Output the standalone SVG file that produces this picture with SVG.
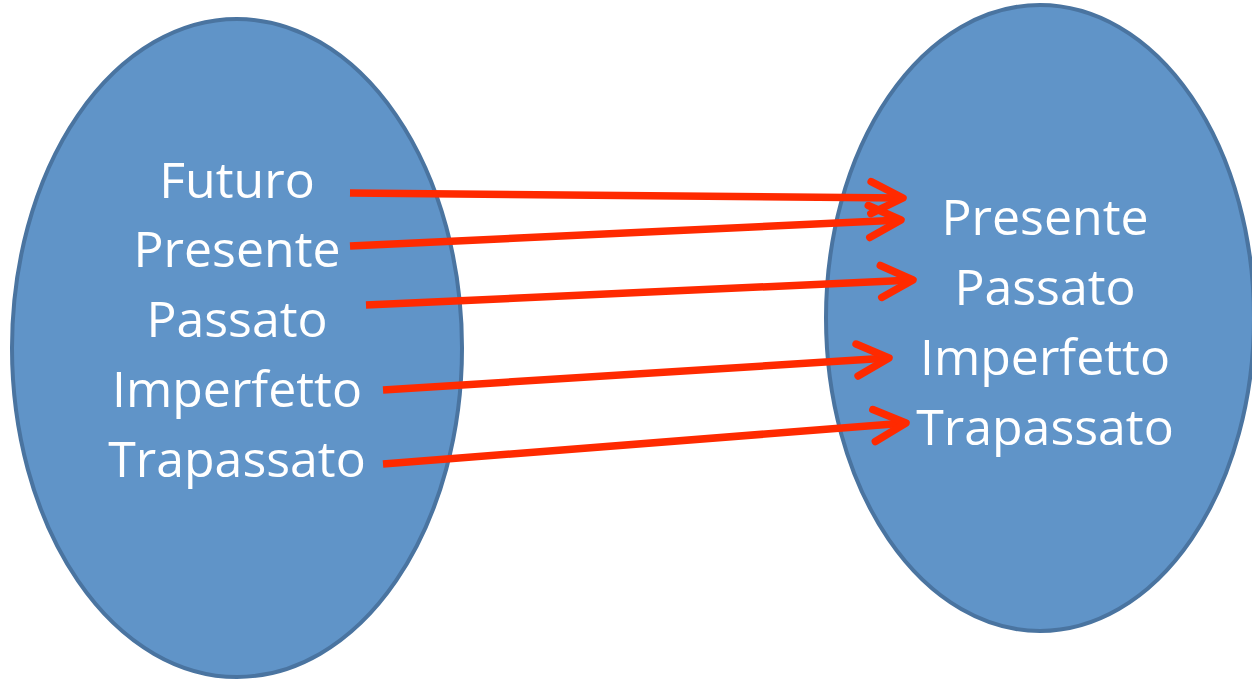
<svg xmlns="http://www.w3.org/2000/svg" width="1252" height="679" viewBox="0 0 1252 679">
<style>
.set{fill:#6094c8;stroke:#4a74a0;stroke-width:4}
.lbl{fill:#ffffff;font-family:"Open Sans","Liberation Sans",sans-serif;font-size:50px;text-anchor:middle}
.arr{stroke:#ff2a00;stroke-width:7.5;fill:none;marker-end:url(#ah)}
</style>
<defs>
<marker id="ah" markerUnits="userSpaceOnUse" viewBox="-40 -25 50 50" markerWidth="50" markerHeight="50" refX="0" refY="0" orient="auto">
<path d="M-32,-16 L0,0 L-32,16" fill="none" stroke="#ff2a00" stroke-width="7.5" stroke-linecap="round" stroke-linejoin="round"/>
</marker>
</defs>
<g id="left-set">
<ellipse class="set" cx="237" cy="348" rx="225" ry="329"/>
<text class="lbl" x="237" y="198">Futuro</text>
<text class="lbl" x="237" y="267">Presente</text>
<text class="lbl" x="237" y="337">Passato</text>
<text class="lbl" x="237" y="407">Imperfetto</text>
<text class="lbl" x="237" y="477">Trapassato</text>
</g>
<g id="right-set">
<ellipse class="set" cx="1040" cy="318" rx="214" ry="313"/>
<text class="lbl" x="1045" y="235">Presente</text>
<text class="lbl" x="1045" y="305">Passato</text>
<text class="lbl" x="1045" y="375">Imperfetto</text>
<text class="lbl" x="1045" y="445">Trapassato</text>
</g>
<g id="connectors">
<line class="arr" x1="350" y1="193" x2="903" y2="198"/>
<line class="arr" x1="350" y1="246" x2="901" y2="220"/>
<line class="arr" x1="366" y1="305" x2="913" y2="280"/>
<line class="arr" x1="383" y1="390" x2="889" y2="358"/>
<line class="arr" x1="383" y1="464" x2="906" y2="423"/>
</g>
</svg>
